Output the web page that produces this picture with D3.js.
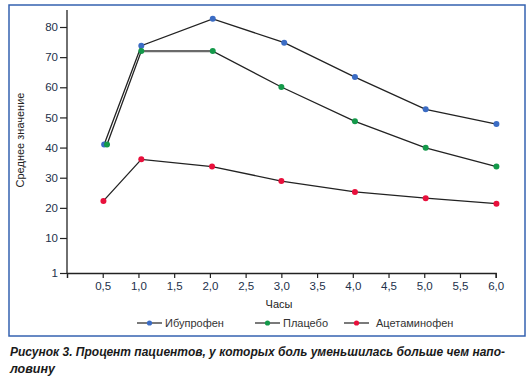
<!DOCTYPE html>
<html><head><meta charset="utf-8">
<script src="https://cdn.jsdelivr.net/npm/d3@7/dist/d3.min.js"></script>
<style>
body{margin:0;background:#fff;}
svg text{font-family:"Liberation Sans",Arial,sans-serif;}
</style></head>
<body><svg id="c" width="531" height="380"></svg>
<script>
const seriesNames = ["Ибупрофен","Плацебо","Ацетаминофен"];
const seriesColors = ["#3b6cc4","#14994a","#e8103c"];
const ibuX = [0.52,1.04,2.04,3.04,4.03,5.02,6.01];
const ibuY = [41,73.8,82.7,74.8,63.4,52.7,47.8];
const plaX = [0.56,1.04,2.04,3.0,4.03,5.02,6.01];
const plaY = [41,72,72,60.1,48.7,39.9,33.7];
const aceX = [0.51,1.04,2.03,3.0,4.03,5.02,6.01];
const aceY = [22.3,36.1,33.7,28.9,25.3,23.2,21.4];
const xTicks = [0.5,1.0,1.5,2.0,2.5,3.0,3.5,4.0,4.5,5.0,5.5,6.0];
const yTicks = [1,10,20,30,40,50,60,70,80];
const xTitle = "Часы";
const yTitle = "Среднее значение";
const caption1 = "Рисунок 3. Процент пациентов, у которых боль уменьшилась больше чем напо-";
const caption2 = "ловину";

const svg = d3.select("#c");
svg.append("rect").attr("x",9).attr("y",5).attr("width",516).attr("height",331)
  .attr("fill","none").attr("stroke","#3462b0").attr("stroke-width",1.5);

const x = d3.scaleLinear().domain([0,6]).range([67,495.7]);
const y = d3.scaleLinear().domain([1,10,80]).range([273,238,27]);

const tickColor = "#22304a";
const gx = svg.append("g").attr("transform","translate(0,273)")
  .call(d3.axisBottom(x).tickValues([0].concat(xTicks)).tickSize(5).tickPadding(4)
    .tickFormat(d=> d===0 ? "" : d3.format(".1f")(d).replace(".",",")));
const gy = svg.append("g").attr("transform","translate(67,0)")
  .call(d3.axisLeft(y).tickValues(yTicks).tickSize(7).tickPadding(2).tickFormat(d=>d));
[gx,gy].forEach(g=>{
  g.select(".domain").attr("stroke","#222").attr("stroke-width",1.3);
  g.selectAll(".tick line").attr("stroke","#222").attr("stroke-width",1.2);
  g.selectAll(".tick text").attr("fill",tickColor).attr("font-size",11.5)
   .attr("font-family","'Liberation Sans',Arial,sans-serif");
});
// extend y axis to top
gy.select(".domain").attr("d","M0,10V273");

svg.append("text").attr("x",279).attr("y",308).attr("text-anchor","middle")
  .attr("font-size",11).attr("fill","#222").text(xTitle);
svg.append("text").attr("transform","translate(24,140) rotate(-90)").attr("text-anchor","middle")
  .attr("font-size",11).attr("fill","#222").text(yTitle);

const data = [
  ibuX.map((v,i)=>[v,ibuY[i]]),
  plaX.map((v,i)=>[v,plaY[i]]),
  aceX.map((v,i)=>[v,aceY[i]])
];
const line = d3.line().x(d=>x(d[0])).y(d=>y(d[1]));
data.forEach((s,k)=>{
  svg.append("path").attr("d",line(s)).attr("fill","none")
    .attr("stroke","#222").attr("stroke-width",1.3);
});
// placebo plateau segment drawn grey and thicker
svg.append("path").attr("d",line(data[1].slice(1,3))).attr("fill","none")
  .attr("stroke","#6a6a6a").attr("stroke-width",2.2);
data.forEach((s,k)=>{
  svg.append("g").selectAll("circle").data(s).join("circle")
    .attr("cx",d=>x(d[0])).attr("cy",d=>y(d[1])).attr("r",3)
    .attr("fill",seriesColors[k]);
});

// legend
const legX = [137,255,344];
const leg = svg.append("g");
seriesNames.forEach((n,k)=>{
  const lx = legX[k];
  leg.append("line").attr("x1",lx).attr("x2",lx+25).attr("y1",323).attr("y2",323)
    .attr("stroke","#222").attr("stroke-width",1.2);
  leg.append("circle").attr("cx",lx+12.5).attr("cy",323).attr("r",2.6).attr("fill",seriesColors[k]);
  leg.append("text").attr("x",lx+(k===2?32:28)).attr("y",327).attr("font-size",11).attr("fill","#333").text(n);
});

svg.append("text").attr("x",10).attr("y",356).attr("font-size",12.5).attr("font-weight","bold")
  .attr("font-style","italic").attr("fill","#1a1a1a").attr("textLength",495).attr("lengthAdjust","spacingAndGlyphs")
  .text(caption1);
svg.append("text").attr("x",10).attr("y",373).attr("font-size",12.5).attr("font-weight","bold")
  .attr("font-style","italic").attr("fill","#1a1a1a").text(caption2);
</script></body></html>
